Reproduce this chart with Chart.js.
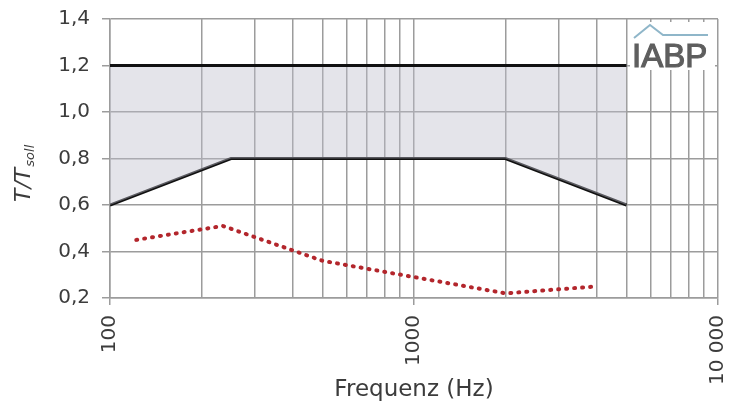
<!DOCTYPE html>
<html>
<head>
<meta charset="utf-8">
<title>T/Tsoll</title>
<script src="https://cdn.jsdelivr.net/npm/chart.js@4.4.1/dist/chart.umd.min.js"></script>
<style>
    html, body { margin: 0; padding: 0; background: #fff; }
    #chart_wrapper { width: 742px; height: 405px; }
</style>
</head>
<body>
<div id="chart_wrapper"><canvas id="chart" width="742" height="405"></canvas></div>
<script>
/*global Chart*/

// toleranzbereich (grenzen)
var limitFreq = [100, 250, 2000, 5000];
var upperLimit = [1.2, 1.2, 1.2, 1.2];
var lowerLimit = [0.6, 0.8, 0.8, 0.6];

// gemessene werte
var measFreq = [122, 235, 500, 1000, 2000, 4000];
var measValues = [0.45, 0.51, 0.36, 0.29, 0.22, 0.25];

var xTickValues = [100, 1000, 10000];
var xTickLabels = ["100", "1000", "10 000"];
var yTickValues = [0.2, 0.4, 0.6, 0.8, 1.0, 1.2, 1.4];
var yTickLabels = ["0,2", "0,4", "0,6", "0,8", "1,0", "1,2", "1,4"];

var gridColor = "#9c9c9c";
var textColor = "#3c3c3c";
var fontFamily = "'DejaVu Sans', sans-serif";

function toPoints(xs, ys) {
    "use strict";
    return xs.map(function (x, i) { return {x: x, y: ys[i]}; });
}

// alle log-gitterlinien 100..10000
function logGrid() {
    "use strict";
    var out = [], d, k;
    for (d = 100; d < 10000; d *= 10) {
        for (k = 1; k < 10; k++) { out.push({value: d * k}); }
    }
    out.push({value: 10000});
    return out;
}

var yTitlePlugin = {
    id: "yTitle",
    afterDraw: function (chart) {
        "use strict";
        var ctx = chart.ctx, w;
        ctx.save();
        ctx.translate(24, 202);
        ctx.rotate(-Math.PI / 2);
        ctx.fillStyle = textColor;
        ctx.textBaseline = "middle";
        ctx.textAlign = "left";
        ctx.font = "italic 22px " + fontFamily;
        ctx.fillText("T/T", 0, 0);
        w = ctx.measureText("T/T").width;
        ctx.font = "italic 13px " + fontFamily;
        ctx.fillText("soll", w + 1, 7);
        ctx.restore();
    }
};

var logoPlugin = {
    id: "logo",
    afterDraw: function (chart) {
        "use strict";
        var ctx = chart.ctx;
        ctx.save();
        ctx.fillStyle = "#fff";
        ctx.fillRect(630, 22, 85, 48);
        ctx.strokeStyle = "#8fb6c9";
        ctx.lineWidth = 2;
        ctx.beginPath();
        ctx.moveTo(634, 38);
        ctx.lineTo(650, 25);
        ctx.lineTo(663, 35);
        ctx.lineTo(708, 35);
        ctx.stroke();
        ctx.fillStyle = "#5e5e5e";
        ctx.strokeStyle = "#5e5e5e";
        ctx.lineWidth = 1.2;
        ctx.font = "33px 'Liberation Sans', sans-serif";
        ctx.textBaseline = "alphabetic";
        ctx.textAlign = "left";
        ctx.fillText("IABP", 632, 67);
        ctx.strokeText("IABP", 632, 67);
        ctx.restore();
    }
};

var chartData = {
    datasets: [
        {
            label: "obere Grenze",
            data: toPoints(limitFreq, upperLimit),
            borderColor: "#111",
            borderWidth: 3,
            pointRadius: 0,
            fill: "+1",
            backgroundColor: "rgba(190, 190, 205, 0.42)"
        }, {
            label: "untere Grenze",
            data: toPoints(limitFreq, lowerLimit),
            borderColor: "#111",
            borderWidth: 3,
            pointRadius: 0,
            fill: false
        }, {
            label: "Messung",
            data: toPoints(measFreq, measValues),
            borderColor: "#b3262c",
            borderWidth: 4,
            borderDash: [1, 7],
            borderCapStyle: "round",
            pointRadius: 0,
            fill: false
        }
    ]
};

var options = {
    responsive: false,
    animation: false,
    layout: {padding: {top: 19, right: 24, bottom: 0, left: 0}},
    plugins: {legend: {display: false}, tooltip: {enabled: false}},
    scales: {
        x: {
            type: "logarithmic",
            min: 100,
            max: 10000,
            afterBuildTicks: function (scale) { scale.ticks = logGrid(); },
            afterFit: function (scale) {
                scale.height = 107;
                scale.paddingLeft = 0;
                scale.paddingRight = 0;
            },
            grid: {
                color: gridColor,
                lineWidth: 1.5,
                tickLength: 7,
                tickColor: function (c) {
                    return (c.tick && xTickValues.indexOf(c.tick.value) >= 0) ? gridColor : "rgba(0,0,0,0)";
                }
            },
            border: {color: gridColor, width: 1.5},
            ticks: {
                autoSkip: false,
                minRotation: 90,
                maxRotation: 90,
                padding: 10,
                color: textColor,
                font: {family: fontFamily, size: 20},
                callback: function (value) {
                    var i = xTickValues.indexOf(value);
                    return i >= 0 ? xTickLabels[i] : "";
                }
            },
            title: {
                display: true,
                text: "Frequenz (Hz)",
                color: textColor,
                font: {family: fontFamily, size: 23},
                padding: {top: 0, bottom: 1}
            }
        },
        y: {
            min: 0.2,
            max: 1.4,
            afterBuildTicks: function (scale) {
                scale.ticks = yTickValues.map(function (v) { return {value: v}; });
            },
            afterFit: function (scale) {
                scale.width = 110;
                scale.paddingTop = 0;
                scale.paddingBottom = 0;
            },
            grid: {color: gridColor, lineWidth: 1.5, tickLength: 8, tickColor: gridColor},
            border: {color: gridColor, width: 1.5},
            ticks: {
                padding: 12,
                color: textColor,
                font: {family: fontFamily, size: 20},
                callback: function (value) {
                    var i = yTickValues.indexOf(Math.round(value * 10) / 10);
                    return i >= 0 ? yTickLabels[i] : "";
                }
            }
        }
    }
};

var ctx = document.getElementById("chart").getContext("2d");
var myChart = new Chart(ctx, {
    type: "line",
    data: chartData,
    options: options,
    plugins: [yTitlePlugin, logoPlugin]
});
</script>
</body>
</html>
